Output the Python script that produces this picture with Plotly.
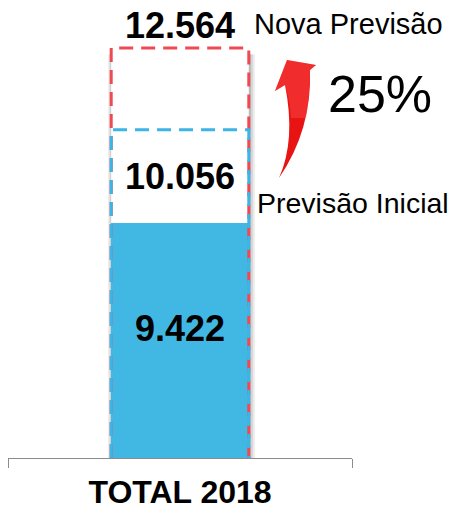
import plotly.graph_objects as go

# ---- data ----
categories = ["TOTAL 2018"]
value_labels = ["9.422", "10.056", "12.564"]          # realizado, previsão inicial, nova previsão
drawn_levels = [7200, 10056, 12564]                   # heights of the marks as drawn in the picture
series_names = ["Realizado", "Previsão Inicial", "Nova Previsão"]
growth_label = "25%"

# ---- layout constants ----
W, H = 454, 510
PLOT_L, PLOT_R, PLOT_T, PLOT_B = 8, 352, 10, 458      # page pixels
ML, MR, MT, MB = PLOT_L, W - PLOT_R, PLOT_T, H - PLOT_B
PW, PH = PLOT_R - PLOT_L, PLOT_B - PLOT_T
BAR_W = 0.4
YMAX = drawn_levels[2] * PH / 410.0
FONT = "Liberation Sans, Arial, Helvetica, sans-serif"

BLUE = "#41B8E4"
BLUE_LINE = "#3CB4E6"
RED_LINE = "#EF4A54"


def p(xp, yp):
    """page pixel -> paper"""
    return (xp - PLOT_L) / PW, (PLOT_B - yp) / PH


fig = go.Figure()

fig.add_trace(go.Bar(
    x=categories, y=[drawn_levels[0]], width=BAR_W,
    marker=dict(color=BLUE, line=dict(width=0)),
    name=series_names[0], hoverinfo="skip",
))

x0, x1 = -BAR_W / 2, BAR_W / 2
px_unit = 1.0 / PW  # data units per pixel on x (range spans 1 unit)

shapes = []
# soft shadow around the outline
for k, op in [(6, 0.10), (4, 0.12), (2, 0.18)]:
    shapes.append(dict(type="rect", xref="x", yref="y", layer="below",
                       x0=x1, x1=x1 + k * px_unit, y0=0, y1=drawn_levels[2] * 0.985,
                       fillcolor="rgba(60,60,60,%s)" % op, line=dict(width=0)))
for k, op in [(3, 0.10), (1.5, 0.15)]:
    shapes.append(dict(type="rect", xref="x", yref="y", layer="below",
                       x0=x0 - k * px_unit, x1=x0, y0=0, y1=drawn_levels[2] * 0.985,
                       fillcolor="rgba(60,60,60,%s)" % op, line=dict(width=0)))

# dashed outlines (open at the bottom)
for lvl, col in [(drawn_levels[2], RED_LINE), (drawn_levels[1], BLUE_LINE)]:
    shapes.append(dict(type="path", xref="x", yref="y", layer="above",
                       path=f"M {x0},0 L {x0},{lvl} L {x1},{lvl} L {x1},0",
                       line=dict(color=col, width=3, dash="14px,8px"),
                       fillcolor="rgba(0,0,0,0)"))

# curved arrow (decoration), in paper coordinates
def P(xp, yp):
    a, b = p(xp, yp)
    return f"{a:.5f},{b:.5f}"

arrow = (f"M {P(279,178)} Q {P(312,130)} {P(310,70)} L {P(316,65)} L {P(287,60)} "
         f"L {P(275,91)} L {P(285,85)} Q {P(296,140)} {P(279,178)} Z")
shapes.append(dict(type="path", xref="paper", yref="paper", path=arrow,
                   fillcolor="#E81414", line=dict(width=0), layer="above"))
arrow_hi = (f"M {P(287,60)} L {P(316,65)} L {P(310,70)} Q {P(310,95)} {P(306,118)} "
            f"L {P(291,118)} Q {P(290,100)} {P(285,85)} L {P(275,91)} Z")
shapes.append(dict(type="path", xref="paper", yref="paper", path=arrow_hi,
                   fillcolor="rgba(255,90,90,0.35)", line=dict(width=0), layer="above"))

annotations = []
# value labels
for txt, ypx, size in [(value_labels[0], 328, 36), (value_labels[1], 176, 36), (value_labels[2], 26, 36)]:
    xa, ya = p(180, ypx)
    annotations.append(dict(x=xa, y=ya, xref="paper", yref="paper", text=f"<b>{txt}</b>",
                            showarrow=False, xanchor="center", yanchor="middle",
                            font=dict(family=FONT, size=size, color="black")))
# series names
for txt, xpx, ypx, size in [(series_names[2], 252, 24, 29), (series_names[1], 255, 203, 28.5)]:
    xa, ya = p(xpx, ypx)
    annotations.append(dict(x=xa, y=ya, xref="paper", yref="paper", text=txt,
                            showarrow=False, xanchor="left", yanchor="middle",
                            font=dict(family=FONT, size=size, color="black")))
xa, ya = p(326, 94)
annotations.append(dict(x=xa, y=ya, xref="paper", yref="paper", text=growth_label,
                        showarrow=False, xanchor="left", yanchor="middle",
                        font=dict(family=FONT, size=52, color="black")))

fig.update_layout(
    width=W, height=H,
    margin=dict(l=ML, r=MR, t=MT, b=MB, pad=0, autoexpand=False),
    paper_bgcolor="white", plot_bgcolor="white",
    showlegend=False, bargap=0,
    shapes=shapes, annotations=annotations,
    xaxis=dict(type="category", range=[-0.5, 0.5], showline=True, linecolor="#8c8c8c",
               linewidth=1, ticks="outside", ticklen=9, tickcolor="#8c8c8c", tickwidth=1,
               tickson="boundaries", showgrid=False, zeroline=False, ticklabelstandoff=6,
               tickfont=dict(family=FONT, size=32, color="black"),
               tickvals=categories, ticktext=[f"<b>{c}</b>" for c in categories]),
    yaxis=dict(range=[0, YMAX], visible=False, showgrid=False, zeroline=False),
)

fig.write_html("out.html", config={"displayModeBar": False},
               post_script="document.body.style.margin='0px';")
